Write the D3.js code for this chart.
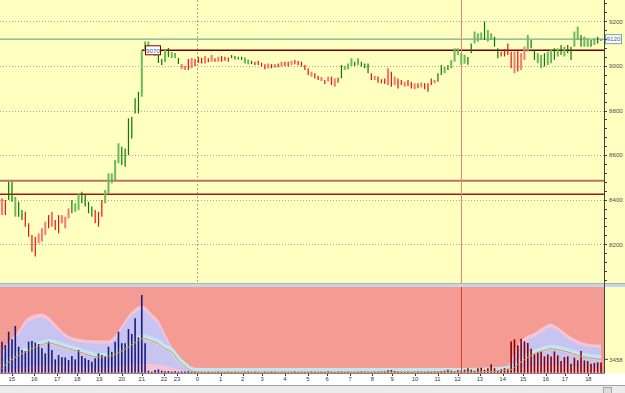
<!DOCTYPE html>
<html>
<head>
<meta charset="utf-8">
<script src="https://cdn.jsdelivr.net/npm/d3@7"></script>
<style>
  html, body { margin: 0; padding: 0; background: #fff; overflow: hidden; }
  svg { display: block; }
  text { font-family: "Liberation Sans", Arial, sans-serif; }
</style>
</head>
<body>
<svg width="625" height="393"></svg>
<script>
// price bars (one per bar index)
const hi = [
  8406, 8399, 8481, 8481, 8413, 8391, 8354, 8346, 8294, 8242,
  8234, 8249, 8272, 8301, 8331, 8346, 8309, 8331, 8331, 8324,
  8361, 8399, 8384, 8428, 8436, 8421, 8391, 8369, 8354, 8346,
  8399, 8443, 8518, 8518, 8578, 8653, 8638, 8630, 8765, 8772,
  8855, 8884, 9068, 9109, 9109, 9090, 9075, 9058, 9031, 9071,
  9080, 9062, 9058, 9035, 9009, 9000, 9031, 9035, 9031, 9040,
  9037, 9044, 9034, 9049, 9034, 9041, 9044, 9041, 9038, 9049,
  9044, 9041, 9041, 9038, 9029, 9023, 9019, 9023, 9014, 9007,
  9011, 9008, 9008, 9011, 9019, 9019, 9019, 9023, 9026, 9022,
  9019, 9004, 8989, 8974, 8967, 8955, 8950, 8937, 8952, 8952,
  8944, 8948, 9004, 9000, 9011, 9034, 9019, 9034, 9019, 9011,
  9011, 8967, 8955, 8952, 8940, 8944, 8989, 8974, 8952, 8944,
  8937, 8929, 8937, 8929, 8922, 8922, 8925, 8922, 8922, 8944,
  8937, 8967, 9004, 8996, 9004, 9026, 9079, 9079, 9057, 9050,
  9040, 9101, 9154, 9146, 9150, 9199, 9161, 9146, 9131, 9079,
  9064, 9075, 9101, 9064, 9064, 9072, 9057, 9087, 9139, 9116,
  9072, 9057, 9049, 9057, 9064, 9072, 9079, 9079, 9094, 9086,
  9094, 9086, 9154, 9176, 9139, 9131, 9124, 9116, 9124, 9131,
  9120
];
const lo = [
  8331, 8331, 8399, 8391, 8324, 8324, 8309, 8279, 8234, 8167,
  8145, 8204, 8212, 8242, 8272, 8279, 8264, 8249, 8294, 8272,
  8316, 8339, 8346, 8354, 8384, 8369, 8339, 8324, 8294, 8279,
  8324, 8384, 8428, 8473, 8488, 8563, 8556, 8548, 8600, 8675,
  8787, 8787, 8862, 9064, 9079, 9060, 9045, 9013, 9004, 9017,
  9040, 9035, 9035, 9009, 8986, 8982, 8982, 8990, 9000, 9013,
  9011, 9011, 9016, 9019, 9019, 9019, 9019, 9023, 9019, 9034,
  9029, 9029, 9026, 9011, 9007, 9008, 9004, 9004, 8997, 8985,
  8989, 8989, 8992, 8994, 8997, 9000, 8997, 9004, 9007, 9003,
  8997, 8982, 8959, 8952, 8944, 8937, 8932, 8919, 8930, 8914,
  8907, 8925, 8944, 8982, 8985, 9000, 9000, 9004, 8997, 8989,
  8967, 8937, 8937, 8925, 8922, 8919, 8914, 8907, 8914, 8899,
  8914, 8907, 8910, 8899, 8895, 8900, 8904, 8895, 8884, 8914,
  8922, 8929, 8959, 8967, 8982, 8989, 9019, 9049, 9004, 9010,
  9005, 9057, 9101, 9109, 9116, 9116, 9109, 9116, 9086, 9034,
  9042, 9042, 9049, 8990, 8967, 8975, 8982, 9027, 9064, 9079,
  9027, 9012, 8990, 8997, 9004, 9012, 9027, 9042, 9049, 9042,
  9057, 9027, 9086, 9116, 9086, 9086, 9086, 9086, 9094, 9101,
  9112
];
// G dark green, g light green, R red, r light red
const barStyle = [
  "rRGGgGGRRR", "RrrrRrRRrr", "rGggGGGGRR", "RgggggGGGG", "GGggggGGGg",
  "GggGrrRrRR", "RrRrRrRRRG", "GGGggGRRRR", "rRrRrRRrRR", "RRRrRRrRrR",
  "rRGgggGgGG", "GRrRRRrRrR", "RrRRrRrRRR", "rGGgGggggg", "GGgggGggGG",
  "RRRRrRrrgG", "GggGggGgGg", "GGggGggGgGg"
].join("");

const vol = [
  8000, 7140, 10580, 8600, 12040, 6700, 5850, 5590, 8000, 8170,
  7740, 7400, 6280, 4990, 8000, 5850, 3440, 4560, 3960, 3960,
  3270, 4300, 3440, 5850, 4300, 3700, 3270, 2840, 3700, 4990,
  4560, 4300, 6700, 5420, 8000, 10580, 7570, 7570, 11270, 9980,
  14020, 9120, 20040, 7570, 520, 260, 690, 860, 520, 350,
  420, 300, 380, 260, 330, 280, 400, 250, 300, 150,
  220, 180, 260, 200, 150, 300, 220, 180, 250, 200,
  260, 180, 150, 220, 300, 180, 260, 200, 150, 220,
  180, 300, 250, 150, 200, 260, 180, 220, 300, 180,
  250, 200, 150, 300, 220, 180, 260, 200, 350, 250,
  180, 220, 300, 200, 260, 180, 150, 220, 300, 250,
  200, 180, 260, 220, 300, 350, 600, 700, 450, 300,
  250, 200, 260, 180, 220, 300, 250, 200, 300, 260,
  350, 300, 400, 520, 780, 520, 390, 650, 520, 780,
  1160, 780, 520, 1160, 1290, 780, 1160, 2150, 1160, 520,
  900, 1160, 1030, 8080, 8600, 7050, 8770, 8080, 7660, 6190,
  4730, 5330, 5500, 4210, 4730, 4210, 5500, 4470, 3010, 4040,
  4210, 2320, 3870, 3180, 5590, 3180, 3010, 2320, 2490, 2670,
  2600
];

// volume envelope (knots at bar index)
const bandIdx   = [0, 2, 5, 8, 12, 14, 16, 19, 23, 29, 32, 34, 36, 38, 40, 42, 43, 45, 47, 49, 51, 53, 55, 56, 58, 62, 140, 146, 150, 152, 153, 155, 157, 160, 163, 165, 167, 170, 173, 176, 180];
const bandOuter = [5340, 7920, 10910, 14370, 15220, 14370, 12640, 10060, 8770, 8330, 8330, 9620, 12200, 14780, 16510, 17360, 16950, 15220, 13490, 10060, 6630, 4050, 1880, 770, 180, 150, 260, 500, 800, 1800, 3170, 7200, 9000, 10300, 12000, 12640, 11790, 9800, 8300, 7500, 7220];
const bandInner = [4500, 7000, 9900, 13300, 14200, 13300, 11700, 9200, 7900, 7500, 7500, 8700, 11200, 13800, 15500, 16300, 15900, 14200, 12500, 9200, 5900, 3500, 1500, 600, 140, 120, 200, 400, 650, 1400, 2600, 6300, 8100, 9300, 11000, 11700, 10800, 8900, 7500, 6700, 6500];
const bandAvg   = [1030, 2750, 4460, 5760, 7220, 7660, 7300, 6450, 5420, 4050, 4210, 4730, 5590, 6630, 7740, 8770, 8770, 8170, 7480, 6190, 5340, 3170, 1630, 900, 260, 150, 200, 300, 500, 700, 770, 2150, 3350, 4900, 5750, 6190, 5930, 5340, 4460, 3870, 3458];
const bandLow   = [400, 900, 1300, 1600, 1900, 1900, 1900, 1800, 1600, 1400, 1400, 1500, 1700, 2000, 2200, 2300, 2300, 2200, 2000, 1700, 1300, 800, 400, 200, 50, 40, 60, 100, 150, 300, 500, 1000, 1400, 1700, 1800, 1900, 1800, 1600, 1400, 1200, 1100];

const yTicks = [8200, 8400, 8600, 8800, 9000, 9200];
const levels = [9120, 9070, 8485, 8425];
const hourLabels = ["15", "16", "17", "18", "19", "20", "21", "22", "23", "0", "1", "2", "3", "4", "5", "6", "7", "8", "9", "10", "11", "12", "13", "14", "15", "16", "17", "18"];
const hourBar = [2.9, 9.7, 16.6, 22.6, 29.2, 36.0, 42.0, 48.7, 52.6, 58.7, 65.7, 72.3, 78.2, 85.0, 91.9, 97.7, 104.6, 111.3, 117.2, 124.1, 130.9, 136.9, 143.6, 150.5, 156.6, 163.4, 169.2, 176.2];
const dayBreakBar = 58.7;
const cursorBar = 137.9;
const volLabel = 3458;

const W = 625, H = 393, axisX = 604;
const svg = d3.select("svg");

const x = d3.scaleLinear().domain([0, 180]).range([2, 601]);
const y = d3.scaleLinear().domain([8200, 9200]).range([244.3, 21.3]);
const yv = d3.scaleLinear().domain([0, 21930]).range([372.7, 287.7]);

// backgrounds
svg.append("rect").attr("width", W).attr("height", 284).attr("fill", "#ffffc0");
svg.append("rect").attr("x", 0).attr("y", 283.5).attr("width", W).attr("height", 3.5).attr("fill", "#c6d6e2");
svg.append("line").attr("x1", 0).attr("x2", W).attr("y1", 283.5).attr("y2", 283.5).attr("stroke", "#a8b0b8");
svg.append("rect").attr("x", 0).attr("y", 287).attr("width", axisX).attr("height", 86).attr("fill", "#f49c94");
svg.append("rect").attr("x", axisX).attr("y", 287).attr("width", W - axisX).attr("height", 86).attr("fill", "#ffffc0");

// grid
svg.append("g").selectAll("line").data(yTicks).join("line")
  .attr("x1", 0).attr("x2", axisX)
  .attr("y1", d => Math.round(y(d)) + 0.5).attr("y2", d => Math.round(y(d)) + 0.5)
  .attr("stroke", "#a8a890").attr("stroke-dasharray", "1,2");

svg.append("line")
  .attr("x1", Math.round(x(dayBreakBar)) + 0.5).attr("x2", Math.round(x(dayBreakBar)) + 0.5)
  .attr("y1", 0).attr("y2", 283)
  .attr("stroke", "#a8a890").attr("stroke-dasharray", "2,2");

// level lines
const lv = svg.append("g");
lv.append("line").attr("x1", 0).attr("x2", axisX).attr("y1", y(levels[0])).attr("y2", y(levels[0]))
  .attr("stroke", "#72aaa2").attr("stroke-width", 1.4);
lv.append("line").attr("x1", x(42)).attr("x2", axisX).attr("y1", y(levels[1])).attr("y2", y(levels[1]))
  .attr("stroke", "#6e0000").attr("stroke-width", 1.5);
lv.append("line").attr("x1", 0).attr("x2", axisX).attr("y1", y(levels[2])).attr("y2", y(levels[2]))
  .attr("stroke", "#b87464").attr("stroke-width", 2);
lv.append("line").attr("x1", 0).attr("x2", axisX).attr("y1", y(levels[3])).attr("y2", y(levels[3]))
  .attr("stroke", "#a01818").attr("stroke-width", 1.5);

// vertical cursor (under the bars)
svg.append("line")
  .attr("x1", Math.round(x(cursorBar)) + 0.5).attr("x2", Math.round(x(cursorBar)) + 0.5)
  .attr("y1", 0).attr("y2", 283).attr("stroke", "#f08474");

// price bars
const barColor = { G: "#0a760a", g: "#6cb85c", R: "#e81010", r: "#f87878" };
svg.append("g").selectAll("line").data(hi).join("line")
  .attr("x1", (d, i) => x(i)).attr("x2", (d, i) => x(i))
  .attr("y1", d => y(d)).attr("y2", (d, i) => y(lo[i]))
  .attr("stroke", (d, i) => barColor[barStyle[i]])
  .attr("stroke-width", (d, i) => barStyle[i] === "g" || barStyle[i] === "r" ? 2 : 1.2);

// price tags
function tag(cx, cy, w, txt, border) {
  svg.append("rect").attr("x", cx).attr("y", cy - 4.5).attr("width", w).attr("height", 9)
    .attr("fill", "#fff").attr("stroke", border).attr("stroke-width", 1);
  svg.append("text").attr("x", cx + w / 2).attr("y", cy).attr("dy", "0.36em")
    .attr("text-anchor", "middle").attr("font-size", 6.2).attr("fill", "#3a58a8").text(txt);
}
tag(145.5, y(levels[1]), 15, levels[1], "#800000");
tag(605.5, y(levels[0]), 16, levels[0], "#70a8a0");

// right axis
const minor = d3.range(8040, 9300, 40);
svg.append("g").selectAll("line").data(minor).join("line")
  .attr("x1", axisX).attr("x2", axisX + 3)
  .attr("y1", d => Math.round(y(d)) + 0.5).attr("y2", d => Math.round(y(d)) + 0.5)
  .attr("stroke", "#404040");
svg.append("g").selectAll("text").data(yTicks).join("text")
  .attr("x", 609).attr("y", d => y(d)).attr("dy", "0.36em")
  .attr("font-size", 6.2).attr("fill", "#505050").text(d => d);

// volume envelope
const bandPts = bandIdx.map((b, k) => ({ b, k }));
const area = (top, bot) => d3.area().curve(d3.curveMonotoneX)
  .x(d => x(d.b)).y0(d => yv(bot ? bot[d.k] : 0)).y1(d => yv(top[d.k]));
svg.append("path").datum(bandPts).attr("d", area(bandOuter)).attr("fill", "#f8c4d4");
svg.append("path").datum(bandPts).attr("d", area(bandInner, bandLow)).attr("fill", "#c8c4f2");
const avgLine = d3.line().curve(d3.curveMonotoneX).x(d => x(d.b)).y(d => yv(bandAvg[d.k]));
svg.append("path").datum(bandPts).attr("d", avgLine).attr("fill", "none")
  .attr("stroke", "#bfe6f4").attr("stroke-width", 5).attr("transform", "translate(0,-1.5)");

// volume bars
svg.append("g").selectAll("line").data(vol).join("line")
  .attr("x1", (d, i) => x(i)).attr("x2", (d, i) => x(i))
  .attr("y1", d => yv(d)).attr("y2", yv(0))
  .attr("stroke", (d, i) => i < dayBreakBar ? "#1c1c78" : "#880000")
  .attr("stroke-width", 1.6);

svg.append("path").datum(bandPts).attr("d", avgLine).attr("fill", "none")
  .attr("stroke", "#f08c48").attr("stroke-width", 1);

svg.append("line")
  .attr("x1", Math.round(x(cursorBar)) + 0.5).attr("x2", Math.round(x(cursorBar)) + 0.5)
  .attr("y1", 287).attr("y2", 373).attr("stroke", "#e83c30");

// volume label
svg.append("line").attr("x1", axisX).attr("x2", axisX + 4)
  .attr("y1", yv(volLabel)).attr("y2", yv(volLabel)).attr("stroke", "#404040");
svg.append("text").attr("x", 609).attr("y", yv(volLabel)).attr("dy", "0.36em")
  .attr("font-size", 6.2).attr("fill", "#505050").text(volLabel);

// axis line
svg.append("line").attr("x1", axisX + 0.5).attr("x2", axisX + 0.5).attr("y1", 0).attr("y2", 385)
  .attr("stroke", "#404040");

// time axis strip
svg.append("rect").attr("x", 0).attr("y", 373.5).attr("width", W).attr("height", 12).attr("fill", "#fff");
svg.append("line").attr("x1", 0).attr("x2", axisX).attr("y1", 373.5).attr("y2", 373.5).attr("stroke", "#888");
svg.append("g").selectAll("line").data(hourBar).join("line")
  .attr("x1", d => Math.round(x(d)) + 0.5).attr("x2", d => Math.round(x(d)) + 0.5)
  .attr("y1", 374).attr("y2", 376).attr("stroke", "#333");
svg.append("g").selectAll("text").data(hourLabels).join("text")
  .attr("x", (d, i) => x(hourBar[i])).attr("y", 380.5)
  .attr("text-anchor", "middle").attr("font-size", 5.8).attr("fill", "#333").text(d => d);

// scrollbar strip
svg.append("line").attr("x1", 0).attr("x2", W).attr("y1", 385.5).attr("y2", 385.5).attr("stroke", "#a0a0a0");
svg.append("rect").attr("x", 0).attr("y", 386).attr("width", W).attr("height", 7).attr("fill", "#ececec");
svg.append("rect").attr("x", 603.5).attr("y", 387.5).attr("width", 8).attr("height", 6)
  .attr("fill", "#dcdcdc").attr("stroke", "#a8a8a8");
</script>
</body>
</html>
